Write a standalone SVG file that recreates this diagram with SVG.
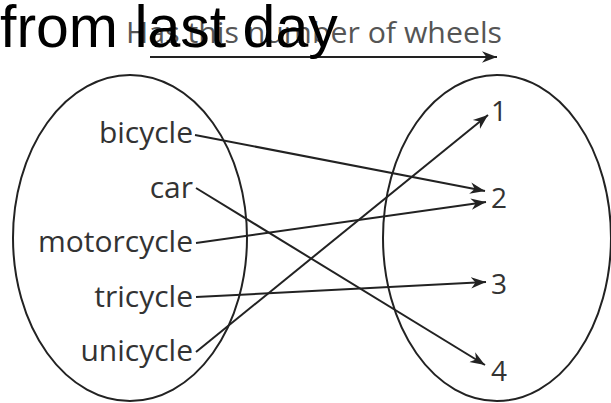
<svg xmlns="http://www.w3.org/2000/svg" width="611" height="403" viewBox="0 0 611 403">
<defs>
<marker id="ah2" viewBox="0 0 10 10" refX="10" refY="5" markerWidth="15" markerHeight="15" markerUnits="userSpaceOnUse" orient="auto">
<path d="M0,1.2 L10,5 L0,8.8 L3,5 Z" fill="#222"/>
</marker>
<style>
.lbl{font-family:"Open Sans","DejaVu Sans",sans-serif;font-size:30px;fill:#333}
.num{font-family:"Open Sans","DejaVu Sans",sans-serif;font-size:28px;fill:#333}
.ell{fill:none;stroke:#222;stroke-width:2}
.con{fill:none;stroke:#222;stroke-width:2;marker-end:url(#ah2)}
</style>
</defs>
<rect width="611" height="403" fill="#fff"/>
<g id="title">
<text x="126" y="43" font-family="Open Sans, DejaVu Sans, sans-serif" font-size="30" fill="#555" textLength="376" lengthAdjust="spacingAndGlyphs">Has this number of wheels</text>
<line x1="150" y1="57" x2="497" y2="57" stroke="#222" stroke-width="2" marker-end="url(#ah2)"/>
</g>
<g id="overlay">
<text x="0" y="47" font-family="Liberation Sans, Arial, sans-serif" font-size="59" fill="#000">from last day</text>
</g>
<g id="domain">
<ellipse class="ell" cx="130" cy="238" rx="117" ry="163"/>
</g>
<g id="range">
<ellipse class="ell" cx="497" cy="238" rx="114" ry="163"/>
</g>
<g id="bicycle"><text class="lbl" x="193" y="143" text-anchor="end">bicycle</text></g>
<g id="car"><text class="lbl" x="193" y="198" text-anchor="end">car</text></g>
<g id="motorcycle"><text class="lbl" x="193" y="252" text-anchor="end">motorcycle</text></g>
<g id="tricycle"><text class="lbl" x="193" y="307" text-anchor="end">tricycle</text></g>
<g id="unicycle"><text class="lbl" x="193" y="361" text-anchor="end">unicycle</text></g>
<g id="n1"><text class="num" x="491" y="121">1</text></g>
<g id="n2"><text class="num" x="491" y="208">2</text></g>
<g id="n3"><text class="num" x="491" y="294">3</text></g>
<g id="n4"><text class="num" x="491" y="381">4</text></g>
<g id="connectors">
<line class="con" x1="195" y1="135" x2="485" y2="191"/>
<line class="con" x1="196" y1="188" x2="485" y2="365"/>
<line class="con" x1="196" y1="243" x2="486" y2="202"/>
<line class="con" x1="196" y1="297" x2="486" y2="282"/>
<line class="con" x1="196" y1="352" x2="488" y2="115"/>
</g>
</svg>
